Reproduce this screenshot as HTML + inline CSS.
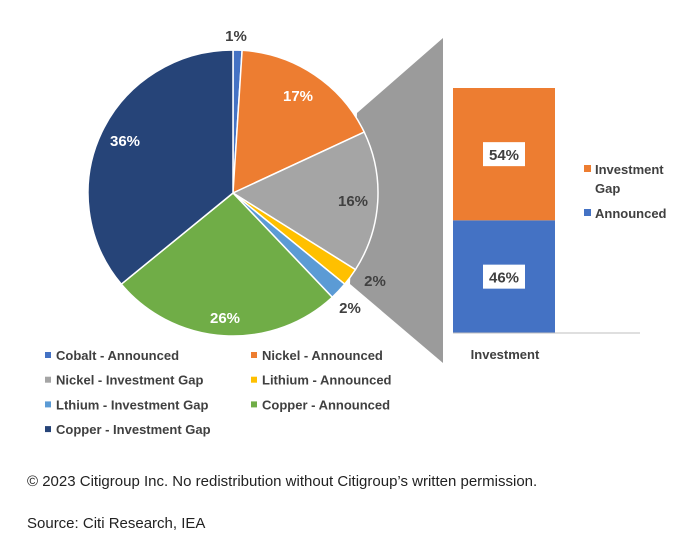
<!DOCTYPE html>
<html><head><meta charset="utf-8"><style>
body{margin:0;background:#fff;width:700px;height:552px;overflow:hidden;font-family:"Liberation Sans",sans-serif}
svg text{font-family:"Liberation Sans",sans-serif}
</style></head><body>
<svg width="700" height="552">
<polygon points="357,113 443,38 443,363 350,284" fill="#9b9b9b"/>
<g id="pie"></g>
<g id="bar"></g>
<line x1="453" y1="333" x2="640" y2="333" stroke="#bfbfbf" stroke-width="1"/>
<text x="505" y="359" font-size="13" font-weight="bold" fill="#404040" text-anchor="middle">Investment</text>
<g>
<rect x="584" y="165" width="7" height="7" fill="#ED7D31"/><text x="595" y="174" font-size="13" font-weight="bold" fill="#404040">Investment</text>
<text x="595" y="193" font-size="13" font-weight="bold" fill="#404040">Gap</text>
<rect x="584" y="209" width="7" height="7" fill="#4472C4"/><text x="595" y="218" font-size="13" font-weight="bold" fill="#404040">Announced</text>
</g>
<g id="legend"></g>
<text x="27" y="486" font-size="15" fill="#222">© 2023 Citigroup Inc. No redistribution without Citigroup’s written permission.</text>
<text x="27" y="528" font-size="15" fill="#222">Source: Citi Research, IEA</text>
</svg>
<script>
const sliceNames=["Cobalt - Announced","Nickel - Announced","Nickel - Investment Gap","Lithium - Announced","Lthium - Investment Gap","Copper - Announced","Copper - Investment Gap"];
const sliceValues=[1,17,16,2,2,26,36];
const sliceLabels=["1%","17%","16%","2%","2%","26%","36%"];
const barCategories=["Announced","Investment Gap"];
const barValues=[46,54];
const barLabels=["46%","54%"];
const colors=["#4472C4","#ED7D31","#A5A5A5","#FFC000","#5B9BD5","#70AD47","#264478"];
const NS="http://www.w3.org/2000/svg";
const cx=233,cy=193,rx=145,ry=143;
const labelPos=[[236,36,1],[298,96,0],[353,201,0],[375,281,1],[350,308,1],[225,318,0],[125,141,0]];
const pie=document.getElementById('pie');
const total=sliceValues.reduce((a,b)=>a+b,0);
let acc=0;
function pt(a){return [cx+rx*Math.sin(a),cy-ry*Math.cos(a)];}
sliceValues.forEach((v,i)=>{
  const a0=acc/total*2*Math.PI; acc+=v; const a1=acc/total*2*Math.PI;
  const p0=pt(a0),p1=pt(a1);
  const path=document.createElementNS(NS,'path');
  path.setAttribute('d',`M${cx},${cy}L${p0[0]},${p0[1]}A${rx},${ry} 0 ${a1-a0>Math.PI?1:0} 1 ${p1[0]},${p1[1]}Z`);
  path.setAttribute('fill',colors[i]);path.setAttribute('stroke','#fff');path.setAttribute('stroke-width','1.5');
  
  
  pie.appendChild(path);
});
sliceValues.forEach((v,i)=>{
  const lp=labelPos[i];
  const t=document.createElementNS(NS,'text');
  t.setAttribute('x',lp[0]);t.setAttribute('y',lp[1]+5);t.setAttribute('text-anchor','middle');
  t.setAttribute('font-size','15');t.setAttribute('font-weight','bold');
  t.setAttribute('fill',(i==2||lp[2])?'#404040':'#fff');
  t.textContent=sliceLabels[i];
  
  
  document.querySelector('svg').appendChild(t);
});
const bar=document.getElementById('bar');
const by0=333,by1=88,bx=453,bw=102;
let bacc=0;const btot=barValues.reduce((a,b)=>a+b,0);
barValues.forEach((v,i)=>{
  const yb=by0-(bacc/btot)*(by0-by1); bacc+=v; const yt=by0-(bacc/btot)*(by0-by1);
  const r=document.createElementNS(NS,'rect');
  r.setAttribute('x',bx);r.setAttribute('y',yt);r.setAttribute('width',bw);r.setAttribute('height',yb-yt);
  r.setAttribute('fill',i==0?'#4472C4':'#ED7D31');
  
  
  bar.appendChild(r);
  const m=(yt+yb)/2;
  const b=document.createElementNS(NS,'rect');
  b.setAttribute('x',bx+bw/2-21);b.setAttribute('y',m-12);b.setAttribute('width',42);b.setAttribute('height',24);b.setAttribute('fill','#fff');
  
  
  bar.appendChild(b);
  const t=document.createElementNS(NS,'text');
  t.setAttribute('x',bx+bw/2);t.setAttribute('y',m+6);t.setAttribute('text-anchor','middle');t.setAttribute('font-size','15');t.setAttribute('font-weight','bold');t.setAttribute('fill','#404040');
  t.textContent=barLabels[i];
  
  
  bar.appendChild(t);
});
const lg=document.getElementById('legend');
sliceNames.forEach((n,i)=>{
  const col=i%2,row=Math.floor(i/2);
  const x=col?251:45,y=356+row*24.7;
  const r=document.createElementNS(NS,'rect');
  r.setAttribute('x',x);r.setAttribute('y',y-4);r.setAttribute('width',6);r.setAttribute('height',6);r.setAttribute('fill',colors[i]);
  
  
  lg.appendChild(r);
  const t=document.createElementNS(NS,'text');
  t.setAttribute('x',x+11);t.setAttribute('y',y+4);t.setAttribute('font-size','13');t.setAttribute('font-weight','bold');t.setAttribute('fill','#404040');
  t.textContent=n;
  
  
  lg.appendChild(t);
});
</script>
</body></html>
